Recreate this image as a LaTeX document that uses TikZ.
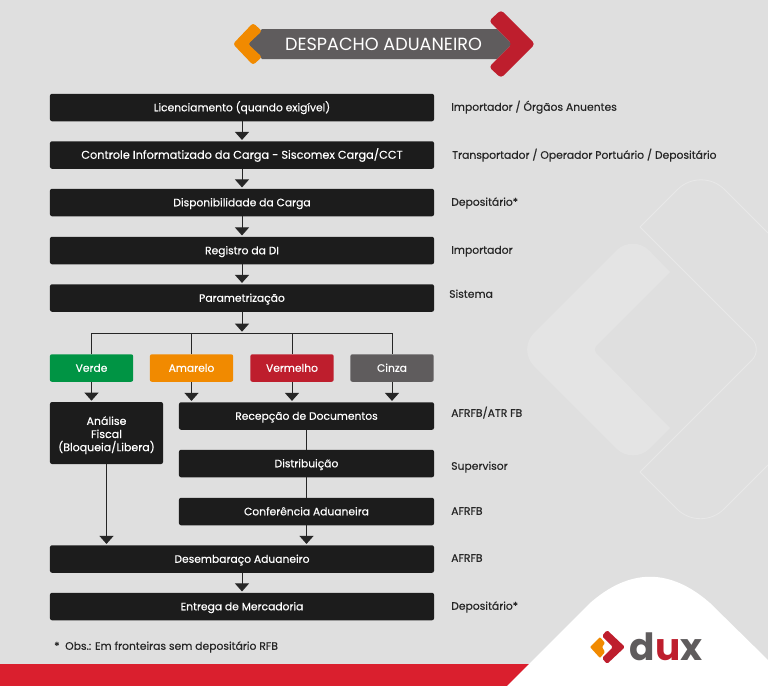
\documentclass[tikz,border=0pt]{standalone}
\usepackage{fontspec}
\setmainfont{Poppins}
\newfontfamily\medfont{Poppins}[FakeBold=0.35]
\usetikzlibrary{arrows.meta}
\definecolor{pagebg}{HTML}{DFDFDF}
\definecolor{decofill}{HTML}{E4E4E4}
\definecolor{decoline}{HTML}{E8E8E8}
\definecolor{boxdark}{HTML}{1C1C1C}
\definecolor{duxred}{HTML}{BE1E2D}
\definecolor{stripred}{HTML}{DA1F2E}
\definecolor{duxorange}{HTML}{F18A00}
\definecolor{duxgreen}{HTML}{009444}
\definecolor{duxgray}{HTML}{5F5C5D}
\definecolor{labeltext}{HTML}{262626}

\begin{document}
\begin{tikzpicture}[
    x=0.03cm, y=-0.03cm,
    box/.style={fill=boxdark, rounded corners=0.06cm, inner sep=0pt, outer sep=0pt, minimum height=0.825cm, align=center, text=white, font=\medfont\fontsize{9.15}{11.2}\selectfont},
    oneline/.style={text height=8pt, text depth=1.6pt},
    mainbox/.style={box, oneline, minimum width=11.52cm},
    subbox/.style={box, oneline, minimum width=7.65cm},
    colorbox/.style={box, oneline, minimum width=2.5cm},
    who/.style={oneline, anchor=west, inner sep=0pt, text=labeltext, font=\medfont\fontsize{9.2}{11}\selectfont},
    arrow/.style={draw=labeltext, line width=0.85pt, shorten >=0.04cm, -{Triangle[length=0.24cm, width=0.42cm]}},
    link/.style={draw=labeltext, line width=0.85pt},
    decoshape/.style={draw=decoline, line width=0.7pt}
]
    \useasboundingbox (0,0) rectangle (768,686);
    \fill[pagebg] (0,0) rectangle (768,686);

    % background shapes
    \fill[decofill] (670,272) [rounded corners=0.7cm] -- (633,234) -- (517.5,349.5) -- (633,465) [sharp corners] -- (670,428) [rounded corners=0.15cm] -- (592.5,349.5) [sharp corners] -- cycle;
    \draw[decoshape, rounded corners=1cm] (640,227) -- (701,166) -- (768,233);
    \draw[decoshape, rounded corners=0.45cm] (640,227) -- (762.5,349.5) -- (640,472);
    \draw[decoshape, rounded corners=1cm] (640,472) -- (700.5,532.5) -- (768,465);

    % bottom band and logo hill
    \fill[stripred] (0,664) rectangle (560,686);
    \fill[white] (507,686) -- (590,603) .. controls (630,568) and (670,568) .. (710,603) -- (768,660) -- (768,686) -- cycle;

    % header
    \fill[duxgray] (248,44) -- (262,29) -- (497,29) -- (512,44) -- (497,59) -- (262,59) -- cycle;
    \fill[duxorange, rounded corners=0.08cm] (233,44) -- (253,23) -- (262,31) -- (248,44) -- (262,57) -- (253,65) -- cycle;
    \fill[duxred, rounded corners=0.1cm] (535,44) -- (501,10) -- (489,21) -- (512,44) -- (489,67) -- (501,78) -- cycle;
    \node[text=white, inner sep=0pt, font=\fontsize{15.05}{16}\selectfont] (title) at (383.5,44) {DESPACHO ADUANEIRO};

    % main column
    \node[mainbox] (lic) at (242,107.5) {Licenciamento (quando exigível)};
    \node[mainbox, font=\medfont\fontsize{9.65}{11.2}\selectfont] (carga) at (242,155) {Controle Informatizado da Carga - Siscomex Carga/CCT};
    \node[mainbox] (disp) at (242,202.5) {Disponibilidade da Carga};
    \node[mainbox] (reg) at (242,250.5) {Registro da DI};
    \node[mainbox] (param) at (242,298) {Parametrização};

    % channels
    \node[colorbox, fill=duxgreen] (verde) at (91.5,368) {Verde};
    \node[colorbox, fill=duxorange] (amarelo) at (191.5,368) {Amarelo};
    \node[colorbox, fill=duxred] (vermelho) at (292,368) {Vermelho};
    \node[colorbox, fill=duxgray] (cinza) at (392,368) {Cinza};

    \node[box, minimum width=3.39cm, minimum height=1.86cm, font=\medfont\fontsize{9.4}{11.2}\selectfont] (analise) at (106.5,433) {\rule{0pt}{11pt}Análise\\Fiscal\\(Bloqueia/Libera)};
    \node[subbox] (recep) at (306.5,416) {Recepção de Documentos};
    \node[subbox] (distr) at (306.5,463.5) {Distribuição};
    \node[subbox] (conf) at (306.5,511.5) {Conferência Aduaneira};
    \node[mainbox] (desemb) at (242,559) {Desembaraço Aduaneiro};
    \node[mainbox] (entrega) at (242,606.5) {Entrega de Mercadoria};

    % who does what
    \node[who] (wlic) at (451,107) {Importador / Órgãos Anuentes};
    \node[who] (wcarga) at (452,155) {Transportador / Operador Portuário / Depositário};
    \node[who] (wdisp) at (451,202) {Depositário*};
    \node[who] (wreg) at (451,250) {Importador};
    \node[who] (wparam) at (449,294) {Sistema};
    \node[who] (wrecep) at (451,413) {AFRFB/ATR FB};
    \node[who] (wdistr) at (451,466) {Supervisor};
    \node[who] (wconf) at (451,511) {AFRFB};
    \node[who] (wdesemb) at (451,558) {AFRFB};
    \node[who] (wentrega) at (451,606) {Depositário*};
    \node[who] (obs) at (54,646) {*\ \ Obs.: Em fronteiras sem depositário RFB};

    % arrows
    \draw[arrow] (lic) -- (carga);
    \draw[arrow] (carga) -- (disp);
    \draw[arrow] (disp) -- (reg);
    \draw[arrow] (reg) -- (param);
    \coordinate (branch) at (242,333);
    \draw[arrow] (param) -- (branch);
    \draw[link] (verde.north) |- (branch) -| (cinza.north);
    \draw[link] (amarelo.north) -- (amarelo.north |- branch);
    \draw[link] (vermelho.north) -- (vermelho.north |- branch);

    \draw[arrow] (verde.south) -- (verde.south |- analise.north);
    \draw[arrow] (amarelo.south) -- (amarelo.south |- recep.north);
    \draw[arrow] (vermelho.south) -- (vermelho.south |- recep.north);
    \draw[arrow] (cinza.south) -- (cinza.south |- recep.north);
    \draw[link] (recep) -- (distr);
    \draw[link] (distr) -- (conf);
    \draw[arrow] (conf.south) -- (conf.south |- desemb.north);
    \draw[arrow] (analise.south) -- (analise.south |- desemb.north);
    \draw[arrow] (desemb) -- (entrega);

    % logo
    \fill[duxred, rounded corners=0.05cm] (607,630) -- (625,647) -- (607,664) -- (602,658) -- (613,647) -- (602,636) -- cycle;
    \fill[duxorange, rounded corners=0.03cm] (590,647) -- (600,637) -- (605,643) -- (602,647) -- (605,652) -- (600,658) -- cycle;
    \node[inner sep=0pt, font=\fontsize{32}{32}\bfseries\selectfont, text=duxgray] (dux) at (666,647) {d\textcolor{duxred}{u}x};
\end{tikzpicture}
\end{document}
